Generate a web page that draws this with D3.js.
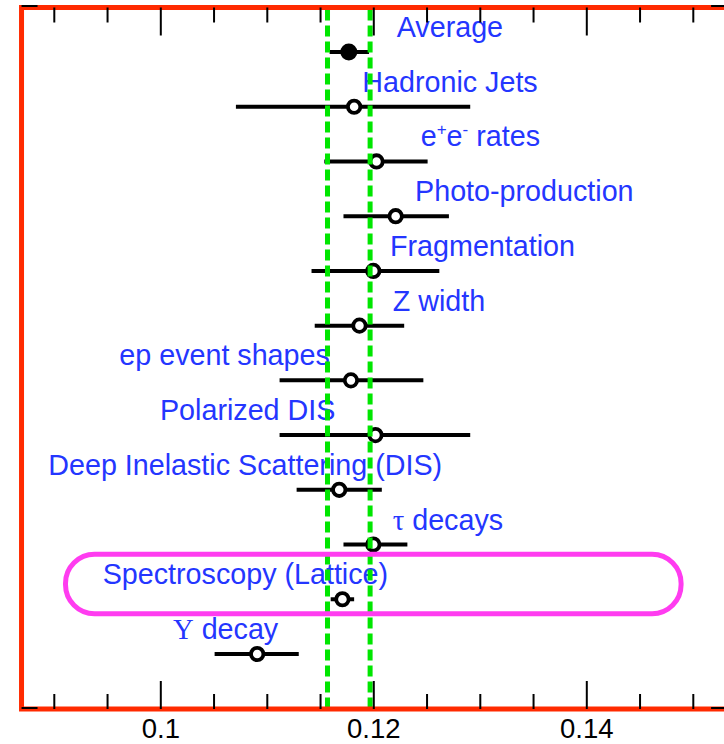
<!DOCTYPE html>
<html>
<head>
<meta charset="utf-8">
<script src="https://cdn.jsdelivr.net/npm/d3@7"></script>
<style>
  html, body { margin: 0; padding: 0; background: #ffffff; }
  svg { display: block; }
</style>
</head>
<body>
<script>
// alpha_s(M_Z) determinations, grouped by method, with the world average on top

const categories = [
  "Average",
  "Hadronic Jets",
  "e+e- rates",
  "Photo-production",
  "Fragmentation",
  "Z width",
  "ep event shapes",
  "Polarized DIS",
  "Deep Inelastic Scattering (DIS)",
  "τ decays",
  "Spectroscopy (Lattice)",
  "Υ decay"
];

const centralValues = [0.1177, 0.1182, 0.1203, 0.1221, 0.1200, 0.1187, 0.1179, 0.1202, 0.1168, 0.1200, 0.1171, 0.1091];
const lowerBounds   = [0.1159, 0.1071, 0.1154, 0.1172, 0.1142, 0.1145, 0.1112, 0.1112, 0.1128, 0.1172, 0.1160, 0.1051];
const upperBounds   = [0.1196, 0.1291, 0.1251, 0.1271, 0.1262, 0.1229, 0.1247, 0.1291, 0.1208, 0.1232, 0.1182, 0.1130];

// band of the world average (dashed vertical lines)
const averageBand = [0.1157, 0.1197];

const majorTicks = [0.1, 0.12, 0.14];
const tickLabels = ["0.1", "0.12", "0.14"];
const minorTicks = [0.09, 0.095, 0.105, 0.11, 0.115, 0.125, 0.13, 0.135, 0.145, 0.15];

const highlighted = "Spectroscopy (Lattice)";

// ---- layout ----
const W = 724, H = 744;
const frameTop = 7.5, frameBottom = 709;
const xMin = 0.08697, xMax = 0.15322;
// where each label text begins, in axis units
const labelStart = [0.1222, 0.11897, 0.12445, 0.12392, 0.12157, 0.12182, 0.09615, 0.09997, 0.08948, 0.12182, 0.09459, 0.10119];

const BLUE = "#2436ff";
const RED = "#ff2a00";
const GREEN = "#00e600";
const MAGENTA = "#ff3cf0";
const SANS = "'Liberation Sans', Arial, Helvetica, sans-serif";
const SERIF = "'Liberation Serif', 'Times New Roman', serif";

const x = d3.scaleLinear().domain([0.1, 0.14]).range([160.3, 586.3]);
const y = d3.scalePoint().domain(categories).range([52, 654]);

const svg = d3.select("body").append("svg")
  .attr("width", W).attr("height", H)
  .attr("viewBox", `0 0 ${W} ${H}`);

svg.append("rect").attr("width", W).attr("height", H).attr("fill", "#ffffff");

const rows = categories.map((c, i) => ({
  name: c,
  v: centralValues[i],
  lo: lowerBounds[i],
  hi: upperBounds[i],
  lx: labelStart[i],
  avg: i === 0
}));

// error bars
svg.append("g").selectAll("line").data(rows).join("line")
  .attr("x1", d => x(d.lo)).attr("x2", d => x(d.hi))
  .attr("y1", d => y(d.name)).attr("y2", d => y(d.name))
  .attr("stroke", "#000").attr("stroke-width", 4);

// central values
svg.append("g").selectAll("circle").data(rows).join("circle")
  .attr("cx", d => x(d.v)).attr("cy", d => y(d.name))
  .attr("r", d => d.avg ? 8.5 : 6.2)
  .attr("fill", d => d.avg ? "#000" : "#fff")
  .attr("stroke", "#000")
  .attr("stroke-width", d => d.avg ? 0 : 3.8);

// method labels
const labels = svg.append("g")
  .attr("font-family", SANS).attr("font-size", 28.7).attr("fill", BLUE);

rows.forEach(d => {
  const t = labels.append("text")
    .attr("x", x(d.lx)).attr("y", y(d.name) - 15);
  if (d.name === "e+e- rates") {
    t.append("tspan").text("e");
    t.append("tspan").attr("font-size", 17).attr("dy", -11).text("+");
    t.append("tspan").attr("dy", 11).text("e");
    t.append("tspan").attr("font-size", 17).attr("dy", -11).text("-");
    t.append("tspan").attr("dy", 11).text(" rates");
  } else if (d.name.startsWith("τ") || d.name.startsWith("Υ")) {
    t.append("tspan").attr("font-family", SERIF).text(d.name[0]);
    t.append("tspan").text(d.name.slice(1));
  } else {
    t.text(d.name);
  }
});

// world-average band
svg.append("g").selectAll("line").data(averageBand).join("line")
  .attr("x1", d => x(d)).attr("x2", d => x(d))
  .attr("y1", frameTop + 2).attr("y2", frameBottom - 2)
  .attr("stroke", GREEN).attr("stroke-width", 5)
  .attr("stroke-dasharray", "11,5");

// highlight around the lattice result
const hy = y(highlighted);
svg.append("rect")
  .attr("x", x(0.0911)).attr("y", hy - 45)
  .attr("width", x(0.1489) - x(0.0911)).attr("height", 59.5)
  .attr("rx", 29).attr("ry", 29)
  .attr("fill", "none").attr("stroke", MAGENTA).attr("stroke-width", 5);

// frame
const fl = x(xMin), fr = x(xMax);
svg.append("rect")
  .attr("x", fl).attr("y", frameTop)
  .attr("width", fr - fl).attr("height", frameBottom - frameTop)
  .attr("fill", "none").attr("stroke", RED).attr("stroke-width", 5);

// axes: ticks point into the frame
function styleAxis(g) {
  g.select(".domain").remove();
  g.selectAll(".tick line").attr("stroke", "#000").attr("stroke-width", 2);
}

svg.append("g").attr("transform", `translate(0,${frameBottom})`)
  .call(d3.axisBottom(x).tickValues(majorTicks).tickSize(-28).tickPadding(9.5)
    .tickFormat((d, i) => tickLabels[i]))
  .call(styleAxis)
  .call(g => g.selectAll(".tick text")
    .attr("font-family", SANS).attr("font-size", 27.5).attr("fill", "#000"));

svg.append("g").attr("transform", `translate(0,${frameBottom})`)
  .call(d3.axisBottom(x).tickValues(minorTicks).tickSize(-15).tickFormat(""))
  .call(styleAxis);

svg.append("g").attr("transform", `translate(0,${frameTop})`)
  .call(d3.axisTop(x).tickValues(majorTicks).tickSize(-28).tickFormat(""))
  .call(styleAxis);

svg.append("g").attr("transform", `translate(0,${frameTop})`)
  .call(d3.axisTop(x).tickValues(minorTicks).tickSize(-15).tickFormat(""))
  .call(styleAxis);

// end ticks of the vertical axes
const endTicks = [
  [fl, fl + 16, frameTop - 1.5], [fl, fl + 16, frameBottom - 1],
  [fr - 16, fr, frameTop - 1.5], [fr - 16, fr, frameBottom - 1]
];
svg.append("g").selectAll("line").data(endTicks).join("line")
  .attr("x1", d => d[0]).attr("x2", d => d[1])
  .attr("y1", d => d[2]).attr("y2", d => d[2])
  .attr("stroke", "#000").attr("stroke-width", 2);
</script>
</body>
</html>
